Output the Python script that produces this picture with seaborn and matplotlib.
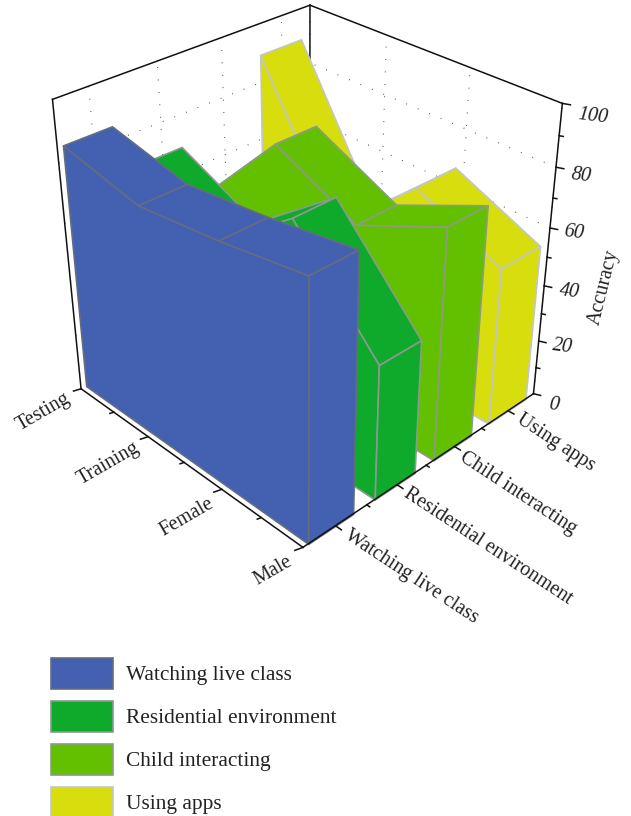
import numpy as np
import matplotlib
matplotlib.use("Agg")
import matplotlib.pyplot as plt
from matplotlib.patches import Patch
import seaborn as sns
from mpl_toolkits.mplot3d import proj3d
from mpl_toolkits.mplot3d.art3d import Poly3DCollection

# Accuracy per group (Male, Female, Training, Testing) and factor
groups = ["Male", "Female", "Training", "Testing"]
factors = ["Watching live class", "Residential environment", "Child interacting", "Using apps"]
watching_live_class = [86.6, 82.1, 78.9, 84.9]
residential_environment = [46.8, 78.3, 56.2, 69.0]
child_interacting = [79.4, 66.0, 79.5, 49.0]
using_apps = [55.5, 68.5, 41.2, 89.5]
z_ticks = [0, 20, 40, 60, 80, 100]

W, H = 631, 816
sns.set_theme(style="white")
plt.rcParams["font.family"] = ["Liberation Serif", "DejaVu Serif"]
TEXT = "#222222"
FONT = 14.5
LEGEND_FONT = 15.4

palette = sns.color_palette(["#4361b0", "#0fa92b", "#62c000", "#d8de0e"])
edge_colors = ["#646c80", "#8a9a90", "#8c9c80", "#c4c6c4"]
series = [watching_live_class, residential_environment, child_interacting, using_apps]
wall_spans = [(0.08, 0.78), (1.13, 1.80), (2.13, 2.80), (3.13, 3.84)]
y_pos = np.arange(len(groups))

fig = plt.figure(figsize=(W / 100, H / 100), dpi=100)
ax = fig.add_axes([0, 0, 1, 1], projection="3d", computed_zorder=False)
ax.set_xlim(0, 4)
ax.set_ylim(0, 3)
ax.set_zlim(0, 100)
ax.view_init(elev=31.43, azim=-134.06)
ax.set_proj_type("persp", focal_length=0.48)
ax.set_box_aspect((1.0, 1.0036, 1.0))
ax.set_axis_off()

# Place the axes so the scene sits at the wanted pixel scale and centre
scale, cx, cy = 3079.85, 306.73, 254.94
vl = ax.viewLim
ax.set_position([(cx + scale * vl.x0) / W, (H - cy + scale * vl.y0) / H,
                 scale * (vl.x1 - vl.x0) / W, scale * (vl.y1 - vl.y0) / H])
M = ax.get_proj()


def line3(xs, ys, zs, **kw):
    kw.setdefault("color", "#111111")
    kw.setdefault("lw", 1.1)
    kw.setdefault("solid_capstyle", "projecting")
    ax.plot(xs, ys, zs, clip_on=False, **kw)


def label3(x, y, z, text, dx, dy, ha, rotation, **kw):
    X, Y, _ = proj3d.proj_transform(x, y, z, M)
    ax.annotate(text, xy=(X, Y), xytext=(dx, dy), textcoords="offset pixels",
                ha=ha, va="center", rotation=rotation, rotation_mode="anchor",
                fontsize=FONT, color=TEXT, annotation_clip=False, **kw)


# Dotted grid on the two rear walls
DOTS = dict(color="#333333", lw=0.8, linestyle=(0, (0.7, 10.5)), zorder=1)
for x in np.arange(len(factors)) + 0.5:
    ax.plot([x, x], [3, 3], [0, 100], clip_on=False, **DOTS)
for y in y_pos:
    ax.plot([4, 4], [y, y], [0, 100], clip_on=False, **DOTS)
for z in z_ticks[1:-1]:
    ax.plot([0, 4], [3, 3], [z, z], clip_on=False, **DOTS)
    ax.plot([4, 4], [0, 3], [z, z], clip_on=False, **DOTS)

# Box edges behind the walls
line3([0, 4], [3, 3], [100, 100], zorder=2)
line3([4, 4], [3, 0], [100, 100], zorder=2)
line3([4, 4], [3, 3], [0, 100], zorder=2)
line3([0, 0], [3, 3], [0, 100], zorder=2)


def add_face(verts, color, edge, zorder):
    poly = Poly3DCollection([verts], facecolors=color, edgecolors=edge,
                            linewidths=1.2, zorder=zorder, clip_on=False)
    poly.set_joinstyle("round")
    ax.add_collection3d(poly, autolim=False)


# Walls from the rear factor to the front one, each drawn far end first
for idx in range(len(series) - 1, -1, -1):
    values = series[idx]
    x0, x1 = wall_spans[idx]
    color, edge = palette[idx], edge_colors[idx]
    base = 10 + (len(series) - idx) * 10
    for i in range(len(values) - 2, -1, -1):
        top = [(x0, y_pos[i], values[i]), (x1, y_pos[i], values[i]),
               (x1, y_pos[i + 1], values[i + 1]), (x0, y_pos[i + 1], values[i + 1])]
        add_face(top, color, edge, base + (3 - i))
    front = [(x0, y_pos[-1], 0)] + [(x0, y_pos[i], values[i]) for i in range(len(values) - 1, -1, -1)] + [(x0, 0, 0)]
    add_face(front, color, edge, base + 5)
    cap = [(x0, 0, 0), (x0, 0, values[0]), (x1, 0, values[0]), (x1, 0, 0)]
    add_face(cap, color, edge, base + 6)

# Front axes
FRONT = 80
line3([0, 4], [0, 0], [0, 0], zorder=FRONT)
line3([0, 0], [0, 3], [0, 0], zorder=FRONT)
line3([4, 4], [0, 0], [0, 100], zorder=FRONT)

# Factor axis ticks and labels
for x in np.arange(len(factors)) + 0.5:
    line3([x, x], [0, -0.07], [0, 0], zorder=FRONT)
for x in np.arange(1, len(factors)):
    line3([x, x], [0, -0.035], [0, 0], zorder=FRONT)
x_offsets = [(11, -8), (9, -8), (7, -10), (10, -7)]
for i, name in enumerate(factors):
    label3(i + 0.5, 0, 0, name, x_offsets[i][0], x_offsets[i][1], "left", -33.3, zorder=FRONT)

# Group axis ticks and labels
for y in y_pos:
    line3([0, -0.097], [y, y + 0.02], [0, 0], zorder=FRONT)
for y in y_pos[:-1] + 0.5:
    line3([0, -0.05], [y, y + 0.01], [0, 0], zorder=FRONT)
y_offsets = [(-12, -13), (-9, -13), (-10, -10), (-12, -9)]
for i, name in enumerate(groups):
    label3(0, y_pos[i], 0, name, y_offsets[i][0], y_offsets[i][1], "right", 30, zorder=FRONT)

# Accuracy axis ticks and labels
for z in z_ticks:
    line3([4, 4.035], [0, -0.063], [z, z], zorder=FRONT)
for z in np.array(z_ticks[:-1]) + 10:
    line3([4, 4.018], [0, -0.032], [z, z], zorder=FRONT)
z_offsets = [(20, -11), (24, -6), (25, -6), (24, -5), (25, -9), (31, -13)]
for z, off in zip(z_ticks, z_offsets):
    label3(4, 0, z, str(z), off[0], off[1], "center", -7, zorder=FRONT, style="italic")
fig.text(604 / W, 1 - 287 / H, "Accuracy", fontsize=FONT, color=TEXT, rotation=76,
         ha="center", va="center", rotation_mode="anchor")

# Legend of factors
fs_px = LEGEND_FONT * 100 / 72
handles = [Patch(facecolor=palette[i], edgecolor=edge_colors[i], linewidth=1.2, label=factors[i])
           for i in range(len(factors))]
leg = fig.legend(handles=handles, loc="upper left", bbox_to_anchor=(51 / W, 1 - 657.5 / H),
                 frameon=False, fontsize=LEGEND_FONT, borderpad=0, borderaxespad=0,
                 handlelength=62 / fs_px, handleheight=1.853,
                 labelspacing=12 / fs_px, handletextpad=13 / fs_px)
for t in leg.get_texts():
    t.set_color(TEXT)

fig.savefig("out.png", dpi=100)
